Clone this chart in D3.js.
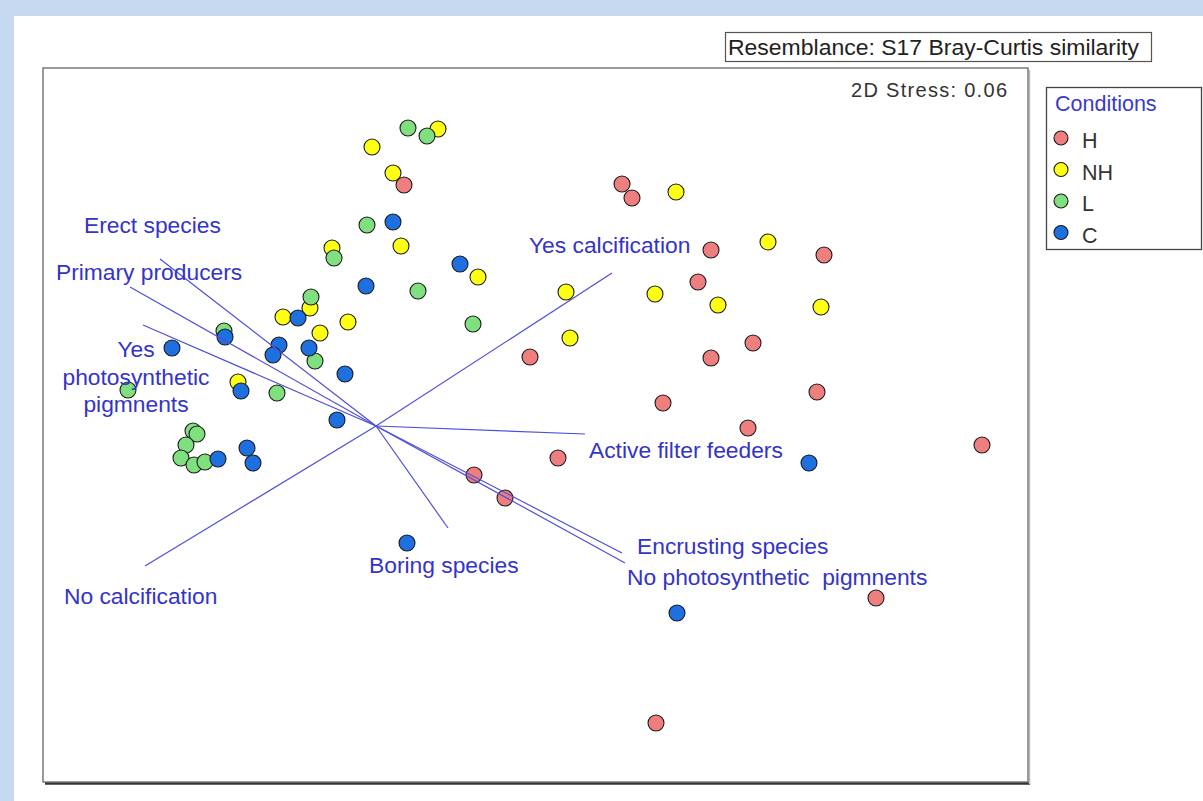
<!DOCTYPE html>
<html>
<head>
<meta charset="utf-8">
<script src="https://cdn.jsdelivr.net/npm/d3@7/dist/d3.min.js"></script>
<style>
  html, body { margin: 0; padding: 0; background: #c6d9f1; }
  svg { display: block; }
  text { font-family: "Liberation Sans", Arial, sans-serif; }
</style>
</head>
<body>
<svg id="chart" width="1203" height="801"></svg>
<script>
// nMDS ordination coordinates (MDS1, MDS2) for each sample, grouped by condition
const conditions = ["H", "NH", "L", "C"];
const conditionColors = ["#ef7f7f", "#ffff14", "#80e080", "#1e6fdf"];

const samplesH = [
  [2.46, 2.42], [2.56, 2.28], [3.35, 1.76], [4.48, 1.71], [3.22, 1.44],
  [3.77, 0.83], [3.35, 0.68], [1.54, 0.69], [4.41, 0.34], [2.87, 0.23],
  [3.72, -0.02], [6.06, -0.19], [1.82, -0.32], [0.98, -0.49], [1.29, -0.72],
  [5.00, -1.72], [2.80, -2.97], [0.28, 2.41]
];
const samplesNH = [
  [0.62, 2.97], [-0.04, 2.79], [0.17, 2.53], [0.25, 1.80], [3.00, 2.34],
  [3.92, 1.84], [1.90, 1.34], [2.79, 1.32], [3.42, 1.21], [4.45, 1.19],
  [1.94, 0.88], [-0.44, 1.78], [1.02, 1.49], [-0.66, 1.18], [-0.93, 1.09],
  [-0.28, 1.04], [-0.56, 0.93], [-1.38, 0.44]
];
const samplesL = [
  [0.32, 2.98], [0.51, 2.90], [-0.09, 2.01], [-0.42, 1.68], [0.42, 1.35],
  [0.97, 1.02], [-0.65, 1.29], [-0.61, 0.65], [-0.99, 0.33], [-1.52, 0.95],
  [-2.48, 0.36], [-1.83, -0.05], [-1.79, -0.08], [-1.90, -0.19], [-1.95, -0.32],
  [-1.82, -0.39], [-1.71, -0.36]
];
const samplesC = [
  [0.17, 2.04], [0.84, 1.62], [-0.10, 1.40], [-0.78, 1.08], [-0.97, 0.81],
  [-1.03, 0.71], [-0.67, 0.78], [-0.31, 0.52], [-1.51, 0.89], [-2.04, 0.78],
  [-1.35, 0.35], [-0.39, 0.06], [-1.58, -0.33], [-1.29, -0.22], [-1.23, -0.37],
  [4.33, -0.37], [0.31, -1.17], [3.01, -1.87]
];

// Trait vectors (correlation overlay), tip coordinates from the origin
const vectorNames = [
  "Yes calcification", "No calcification", "Active filter feeders", "Boring species",
  "Encrusting species", "No photosynthetic  pigmnents", "Erect species",
  "Primary producers", "Yes photosynthetic pigmnents"
];
const vectorTips = [
  [2.36, 1.53], [-2.31, -1.40], [2.09, -0.08], [0.72, -1.02],
  [2.46, -1.27], [2.49, -1.37], [-2.16, 1.67], [-2.46, 1.39], [-2.33, 1.01]
];

const stressText = "2D Stress: 0.06";
const resemblanceText = "Resemblance: S17 Bray-Curtis similarity";
const legendTitle = "Conditions";

// ---- layout ----
const svg = d3.select("#chart");
const W = 1203, H = 801;
const plot = { left: 43, right: 1028, top: 68, bottom: 782 };

const x = d3.scaleLinear().domain([-3.33, 6.52]).range([plot.left, plot.right]);
const y = d3.scaleLinear().domain([-3.56, 3.58]).range([plot.bottom, plot.top]);

// page panel
svg.append("rect").attr("x", 14).attr("y", 16).attr("width", W - 14).attr("height", H - 16)
  .attr("fill", "#ffffff");

// resemblance caption box
svg.append("rect").attr("x", 725.5).attr("y", 32.5).attr("width", 426).attr("height", 29)
  .attr("fill", "#fff").attr("stroke", "#555").attr("stroke-width", 1.2);
svg.append("text").attr("x", 728).attr("y", 55).attr("font-size", 21.5)
  .attr("textLength", 411).attr("lengthAdjust", "spacingAndGlyphs")
  .attr("fill", "#222").text(resemblanceText);

// plot frame with drop shadow on the lower edge
svg.append("line").attr("x1", plot.left + 2).attr("x2", plot.right + 2)
  .attr("y1", plot.bottom + 1.5).attr("y2", plot.bottom + 1.5)
  .attr("stroke", "#333").attr("stroke-width", 2.5);
svg.append("line").attr("x1", plot.right + 1.5).attr("x2", plot.right + 1.5)
  .attr("y1", plot.top + 2).attr("y2", plot.bottom + 2)
  .attr("stroke", "#bbb").attr("stroke-width", 1.5);
svg.append("rect").attr("x", plot.left).attr("y", plot.top)
  .attr("width", plot.right - plot.left).attr("height", plot.bottom - plot.top)
  .attr("fill", "#fff").attr("stroke", "#666").attr("stroke-width", 1.3);

svg.append("text").attr("x", 851).attr("y", 97).attr("font-size", 20)
  .attr("textLength", 156).attr("lengthAdjust", "spacing")
  .attr("fill", "#333").text(stressText);

// sample points, drawn group by group
const seriesData = { H: samplesH, NH: samplesNH, L: samplesL, C: samplesC };
const color = d3.scaleOrdinal().domain(conditions).range(conditionColors);
const drawOrder = ["NH", "L", "C", "H"];
const gPts = svg.append("g");
drawOrder.forEach(cond => {
  gPts.selectAll(null).data(seriesData[cond]).join("circle")
    .attr("cx", d => x(d[0])).attr("cy", d => y(d[1])).attr("r", 8)
    .attr("fill", color(cond)).attr("stroke", "#1a1a1a").attr("stroke-width", 1.1);
});

// vectors from the ordination origin
const gVec = svg.append("g");
gVec.selectAll("line").data(vectorTips).join("line")
  .attr("x1", x(0)).attr("y1", y(0))
  .attr("x2", d => x(d[0])).attr("y2", d => y(d[1]))
  .attr("stroke", "#4f4fd8").attr("stroke-width", 1.2);

// vector labels: anchor (data units), alignment, line breaks
const labelAnchors = [
  { name: vectorNames[0], at: [1.53, 1.73], anchor: "start" },
  { name: vectorNames[1], at: [-3.12, -1.78], anchor: "start" },
  { name: vectorNames[2], at: [2.13, -0.32], anchor: "start" },
  { name: vectorNames[3], at: [-0.07, -1.47], anchor: "start" },
  { name: vectorNames[4], at: [2.61, -1.28], anchor: "start" },
  { name: vectorNames[5], at: [2.51, -1.59], anchor: "start" },
  { name: vectorNames[6], at: [-2.92, 1.93], anchor: "start" },
  { name: vectorNames[7], at: [-3.20, 1.46], anchor: "start" },
  { name: vectorNames[8], at: [-2.40, 0.69], anchor: "middle", lines: ["Yes", "photosynthetic", "pigmnents"] }
];
const gLab = svg.append("g").attr("fill", "#3434c8").attr("font-size", 22.8);
labelAnchors.forEach(l => {
  const t = gLab.append("text").attr("x", x(l.at[0])).attr("y", y(l.at[1]))
    .attr("text-anchor", l.anchor).style("white-space", "pre");
  if (l.lines) {
    l.lines.forEach((s, i) => t.append("tspan").attr("x", x(l.at[0]))
      .attr("dy", i === 0 ? 0 : 27.5).text(s));
  } else {
    t.text(l.name);
  }
});

// legend
const lg = svg.append("g");
lg.append("rect").attr("x", 1046.5).attr("y", 87.5).attr("width", 155).attr("height", 162)
  .attr("fill", "#fff").attr("stroke", "#444").attr("stroke-width", 1.3);
lg.append("text").attr("x", 1055).attr("y", 111).attr("font-size", 21.5)
  .attr("fill", "#3a3acb").text(legendTitle);
conditions.forEach((c, i) => {
  const cy = 138 + i * 31.5;
  lg.append("circle").attr("cx", 1061).attr("cy", cy).attr("r", 7)
    .attr("fill", color(c)).attr("stroke", "#1a1a1a").attr("stroke-width", 1.1);
  lg.append("text").attr("x", 1082).attr("y", cy + 10).attr("font-size", 21.5)
    .attr("fill", "#333").text(c);
});
</script>
</body>
</html>
